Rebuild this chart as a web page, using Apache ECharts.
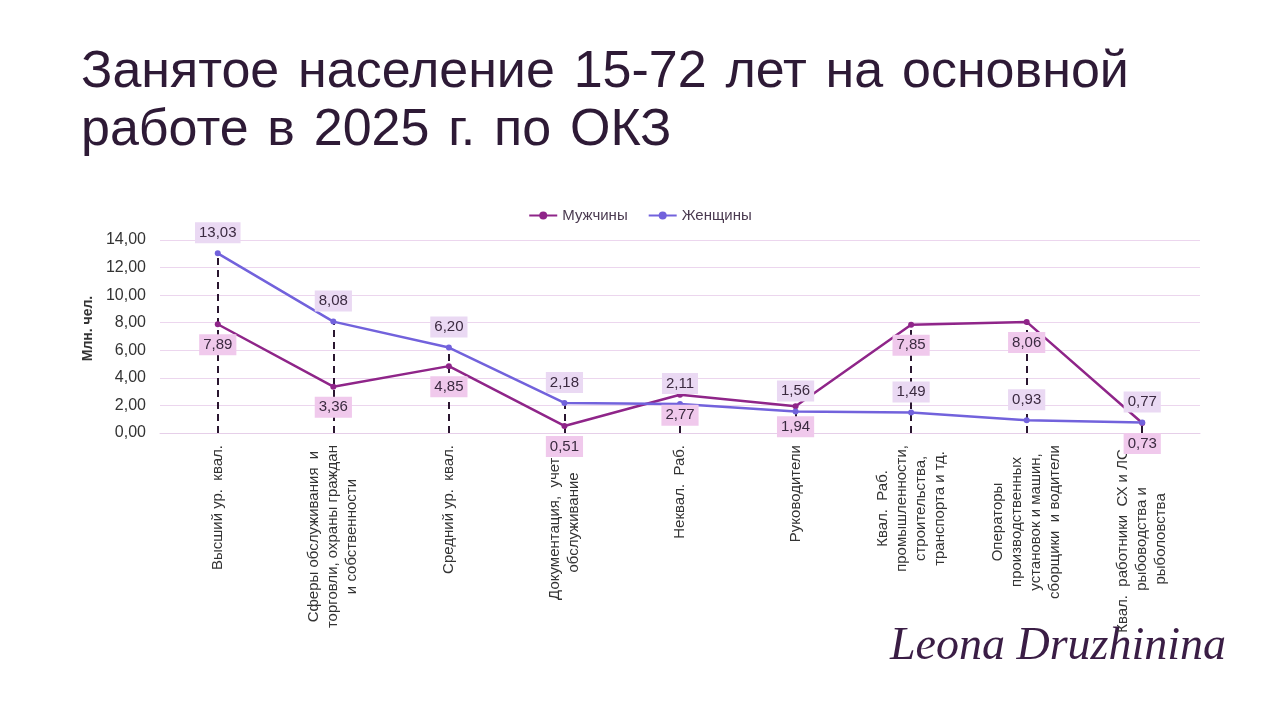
<!DOCTYPE html>
<html>
<head>
<meta charset="utf-8">
<script src="https://cdn.jsdelivr.net/npm/echarts@6/dist/echarts.min.js"></script>
<style>
  html, body { margin: 0; padding: 0; background: #fff; }
  #chart { width: 1280px; height: 720px; }
</style>
</head>
<body>
<div id="chart"></div>
<script>
// категории ОКЗ
var categories = [
    'Высший ур.  квал.',
    'Сферы обслуживания  и\nторговли, охраны граждан\nи собственности',
    'Средний ур.  квал.',
    'Документация,  учет и\nобслуживание',
    'Неквал.  Раб.',
    'Руководители',
    'Квал.  Раб.\nпромышленности,\nстроительства,\nтранспорта и тд.',
    'Операторы\nпроизводственных\nустановок и машин,\nсборщики  и водители',
    'Квал.  работники  СХ и ЛС,\nрыбоводства и\nрыболовства'
];
var men = [7.89, 3.36, 4.85, 0.51, 2.77, 1.94, 7.85, 8.06, 0.73];
var women = [13.03, 8.08, 6.20, 2.18, 2.11, 1.56, 1.49, 0.93, 0.77];
var yTicks = [0, 2, 4, 6, 8, 10, 12, 14];

var font = 'Liberation Sans, Arial, sans-serif';
var sp = ' \u200A';  // чуть более широкие пробелы в заголовке

function fmt(v) {
    return Number(v).toFixed(2).replace('.', ',');
}

// линии проекции от верхней точки до оси
var dropLines = [];
for (var i = 0; i < categories.length; i++) {
    dropLines.push([
        { coord: [i, 0] },
        { coord: [i, Math.max(men[i], women[i])] }
    ]);
}

var myChart = echarts.init(document.getElementById('chart'));
var option = {
    backgroundColor: '#ffffff',
    animation: false,
    title: {
        text: ['Занятое', 'население', '15-72', 'лет', 'на', 'основной'].join(sp) + '\n' +
              ['работе', 'в', '2025', 'г.', 'по', 'ОКЗ'].join(sp),
        left: 76,
        top: 39,
        textStyle: {
            fontFamily: font,
            fontSize: 52,
            fontWeight: 'normal',
            lineHeight: 58,
            color: '#2e1a36'
        }
    },
    legend: {
        top: 203,
        left: 'center',
        itemWidth: 28,
        itemHeight: 10,
        itemGap: 20,
        textStyle: { fontFamily: font, fontSize: 15, color: '#4a3a50' },
        data: ['Мужчины', 'Женщины']
    },
    grid: {
        left: 160,
        right: 80,
        top: 240,
        bottom: 287
    },
    xAxis: {
        type: 'category',
        data: categories,
        boundaryGap: true,
        axisLine: { lineStyle: { color: '#e6cfe9', width: 1 } },
        axisTick: { show: false },
        axisLabel: {
            rotate: 90,
            interval: 0,
            margin: 12,
            // строки подписи выравниваются по центру блока
            formatter: function (v) {
                return v.split('\n').map(function (s) { return '{c|' + s + '}'; }).join('\n');
            },
            rich: {
                c: {
                    align: 'center',
                    fontFamily: font,
                    fontSize: 15,
                    lineHeight: 19,
                    color: '#333333'
                }
            }
        }
    },
    yAxis: {
        type: 'value',
        min: yTicks[0],
        max: yTicks[yTicks.length - 1],
        interval: 2,
        name: 'Млн. чел.',
        nameLocation: 'middle',
        nameRotate: 90,
        nameGap: 58,
        nameTextStyle: {
            fontFamily: font, fontSize: 14, fontWeight: 'bold', color: '#333333',
            padding: [0, 0, 0, 16]
        },
        axisLine: { show: false },
        axisTick: { show: false },
        splitLine: { lineStyle: { color: '#ecd6ee', width: 1 } },
        axisLabel: {
            margin: 14,
            fontFamily: font,
            fontSize: 16,
            color: '#333333',
            formatter: function (v) { return fmt(v); }
        }
    },
    series: [
        {
            name: 'Мужчины',
            type: 'line',
            data: men,
            z: 3,
            symbol: 'circle',
            symbolSize: 6,
            color: '#8f2589',
            lineStyle: { width: 2.5, color: '#8f2589' },
            label: {
                show: true,
                position: 'bottom',
                distance: 7,
                formatter: function (p) { return fmt(p.value); },
                fontFamily: font,
                fontSize: 15,
                color: '#3b2a40',
                backgroundColor: '#f0c9ec',
                padding: [3, 4, 3, 4]
            }
        },
        {
            name: 'Женщины',
            type: 'line',
            data: women,
            z: 3,
            symbol: 'circle',
            symbolSize: 6,
            color: '#7262dc',
            lineStyle: { width: 2.5, color: '#7262dc' },
            label: {
                show: true,
                position: 'top',
                distance: 7,
                formatter: function (p) { return fmt(p.value); },
                fontFamily: font,
                fontSize: 15,
                color: '#3b2a40',
                backgroundColor: '#ead9f3',
                padding: [3, 4, 3, 4]
            },
            markLine: {
                silent: true,
                symbol: 'none',
                label: { show: false },
                lineStyle: { color: '#2a1630', width: 2, type: [7, 5] },
                data: dropLines,
                z: 2
            }
        }
    ],
    graphic: [
        {
            type: 'text',
            left: 890,
            top: 624,
            style: {
                text: 'Leona Druzhinina',
                fontFamily: 'Liberation Serif, serif',
                fontStyle: 'italic',
                fontSize: 46,
                fill: '#3a1d45'
            }
        }
    ]
};
myChart.setOption(option);
</script>
</body>
</html>
